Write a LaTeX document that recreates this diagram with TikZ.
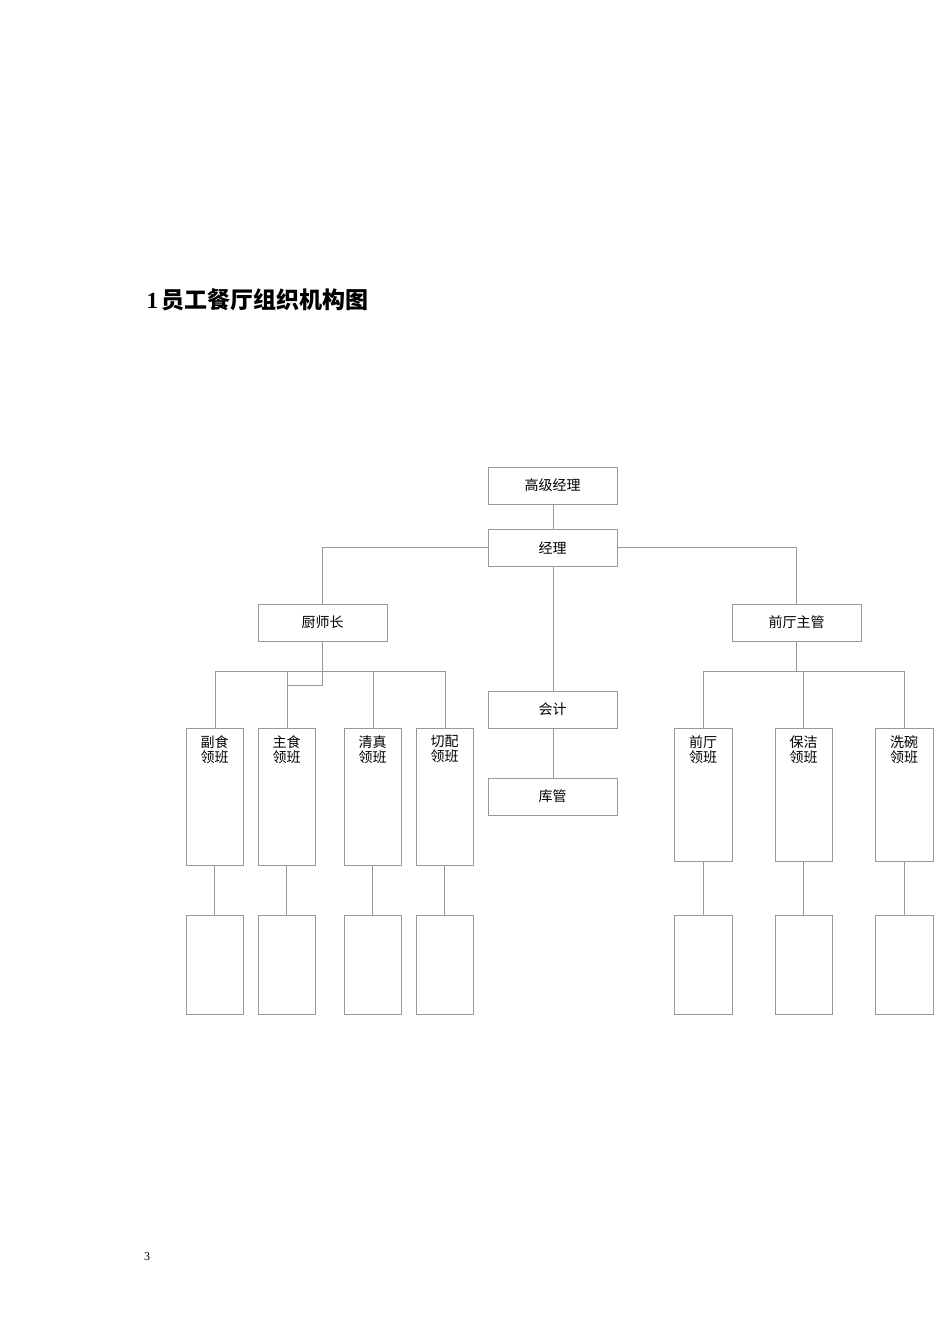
\documentclass[tikz,border=0pt]{standalone}
\usepackage{fontspec}
\setmainfont{Liberation Serif}
\newfontfamily\cjk{Noto Sans CJK SC}
\begin{document}
\begin{tikzpicture}[x=1pt,y=-1pt,
  bx/.style={draw=black!40,line width=0.6pt,font=\cjk\fontsize{14}{18}\selectfont},
  ln/.style={draw=black!40,line width=0.6pt}]
\useasboundingbox (0,0) rectangle (950,1344);
\node[anchor=west,font=\bfseries\fontsize{23}{28}\selectfont] (title) at (143,300) {1\,{\cjk\bfseries 员工餐厅组织机构图}};
\node[font=\fontsize{12}{14}\selectfont] (pg) at (147,1257) {3};
\newcommand\wbox[6]{\draw[ln] (#2,#3) rectangle (#4,#5); \node[bx,draw=none] (#1) at ({(#2+#4)/2},{(#3+#5)/2}) {#6};}
\wbox{gj}{488}{467}{617}{504}{高级经理}
\wbox{jl}{488}{529}{617}{566}{经理}
\wbox{cs}{258}{604}{387}{641}{厨师长}
\wbox{qt}{732}{604}{861}{641}{前厅主管}
\wbox{kj}{488}{691}{617}{728}{会计}
\wbox{kg}{488}{778}{617}{815}{库管}
\newcommand\leaf[6]{\draw[ln] (#2,728) rectangle (#3,#4);
  \node[bx,draw=none,align=center,anchor=north,inner sep=0pt] (#1) at ({(#2+#3)/2},735) {#5\\[-3pt]领班};
  \draw[ln] ({(#2+#3)/2},#4) -- ({(#2+#3)/2},915);
  \draw[ln] (#2,915) rectangle (#3,1014);}
\leaf{a}{186}{243}{865}{副食}{}
\leaf{b}{258}{315}{865}{主食}{}
\leaf{c}{344}{401}{865}{清真}{}
\leaf{d}{416}{473}{865}{切配}{}
\leaf{e}{674}{732}{861}{前厅}{}
\leaf{f}{775}{832}{861}{保洁}{}
\leaf{g}{875}{933}{861}{洗碗}{}
\draw[ln] (553,504) -- (553,529);
\draw[ln] (322,604) -- (322,547) -- (488,547);
\draw[ln] (617,547) -- (796,547) -- (796,604);
\draw[ln] (553,566) -- (553,691);
\draw[ln] (553,728) -- (553,778);
\draw[ln] (215,728) -- (215,671) -- (445,671) -- (445,728);
\draw[ln] (373,671) -- (373,728);
\draw[ln] (322,641) -- (322,685) -- (287,685) -- (287,728);
\draw[ln] (287,671) -- (287,685);
\draw[ln] (796,641) -- (796,671);
\draw[ln] (703,728) -- (703,671) -- (904,671) -- (904,728);
\draw[ln] (803,671) -- (803,728);
\end{tikzpicture}
\end{document}
